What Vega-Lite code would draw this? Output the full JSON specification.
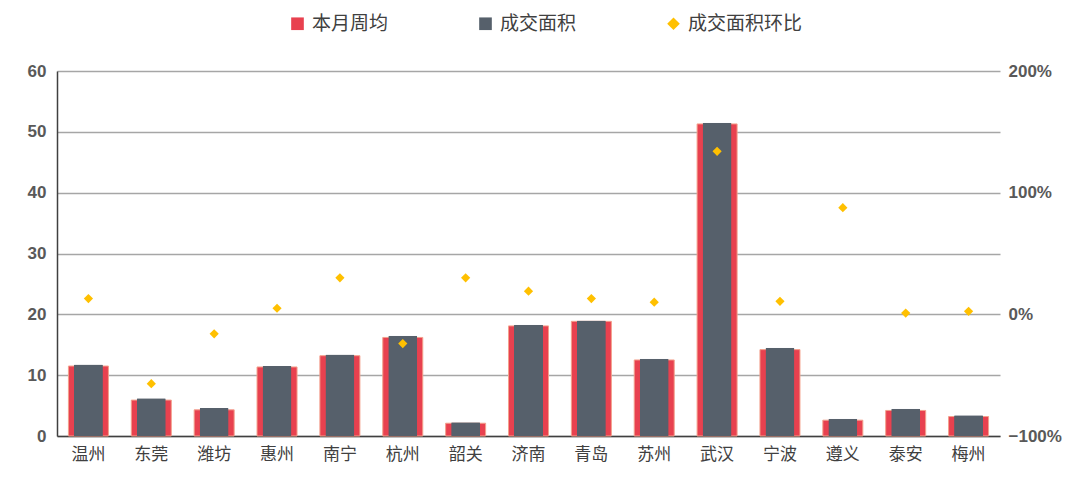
{
  "$schema": "https://vega.github.io/schema/vega-lite/v6.json",
  "width": 943,
  "height": 365,
  "autosize": "none",
  "padding": {"left": 57, "top": 71, "right": 80, "bottom": 45},
  "background": "white",
  "config": {
    "view": {"stroke": null},
    "font": "Noto Sans CJK SC"
  },
  "data": {
    "values": [
      {"city": "温州", "avg": 11.5, "area": 11.75, "ratio": 0.13, "series": "成交面积环比"},
      {"city": "东莞", "avg": 5.9, "area": 6.2, "ratio": -0.57, "series": "成交面积环比"},
      {"city": "潍坊", "avg": 4.3, "area": 4.6, "ratio": -0.16, "series": "成交面积环比"},
      {"city": "惠州", "avg": 11.35, "area": 11.5, "ratio": 0.05, "series": "成交面积环比"},
      {"city": "南宁", "avg": 13.2, "area": 13.4, "ratio": 0.30, "series": "成交面积环比"},
      {"city": "杭州", "avg": 16.2, "area": 16.5, "ratio": -0.24, "series": "成交面积环比"},
      {"city": "韶关", "avg": 2.1, "area": 2.25, "ratio": 0.30, "series": "成交面积环比"},
      {"city": "济南", "avg": 18.1, "area": 18.3, "ratio": 0.19, "series": "成交面积环比"},
      {"city": "青岛", "avg": 18.85, "area": 19.0, "ratio": 0.13, "series": "成交面积环比"},
      {"city": "苏州", "avg": 12.5, "area": 12.7, "ratio": 0.10, "series": "成交面积环比"},
      {"city": "武汉", "avg": 51.3, "area": 51.5, "ratio": 1.34, "series": "成交面积环比"},
      {"city": "宁波", "avg": 14.2, "area": 14.5, "ratio": 0.107, "series": "成交面积环比"},
      {"city": "遵义", "avg": 2.6, "area": 2.85, "ratio": 0.877, "series": "成交面积环比"},
      {"city": "泰安", "avg": 4.2, "area": 4.5, "ratio": 0.01, "series": "成交面积环比"},
      {"city": "梅州", "avg": 3.2, "area": 3.4, "ratio": 0.025, "series": "成交面积环比"}
    ]
  },
  "encoding": {
    "x": {
      "field": "city",
      "type": "nominal",
      "sort": null,
      "title": null,
      "scale": {"paddingInner": 0, "paddingOuter": 0},
      "axis": {
        "labelAngle": 0,
        "labelFont": "Noto Sans CJK SC",
        "labelFontSize": 17,
        "labelColor": "#404040",
        "labelPadding": 10,
        "ticks": false,
        "domainColor": "#404040",
        "domainWidth": 1.5
      }
    }
  },
  "layer": [
    {
      "layer": [
        {
          "mark": {"type": "bar", "size": 40, "color": "#E8414F", "stroke": "#F3A08C", "strokeWidth": 1},
          "encoding": {
            "y": {
              "field": "avg",
              "type": "quantitative",
              "title": null,
              "scale": {"domain": [0, 60]},
              "axis": {
                "values": [0, 10, 20, 30, 40, 50, 60],
                "grid": true,
                "gridColor": "#A6A6A6",
                "gridWidth": 1.5,
                "ticks": false,
                "domainColor": "#404040",
                "domainWidth": 1.5,
                "labelFont": "Liberation Sans",
                "labelFontWeight": "bold",
                "labelFontSize": 17,
                "labelColor": "#595959",
                "labelPadding": 11
              }
            }
          }
        },
        {
          "mark": {"type": "bar", "size": 29, "color": "#56606B", "cornerRadiusTopLeft": 1, "cornerRadiusTopRight": 1},
          "encoding": {
            "y": {"field": "area", "type": "quantitative", "title": null}
          }
        }
      ]
    },
    {
      "mark": {"type": "point", "filled": true, "size": 85, "opacity": 1},
      "encoding": {
        "y": {
          "field": "ratio",
          "type": "quantitative",
          "title": null,
          "scale": {"domain": [-1, 2]},
          "axis": {
            "orient": "right",
            "values": [-1, 0, 1, 2],
            "format": ".0%",
            "grid": false,
            "domain": false,
            "ticks": false,
            "labelFont": "Liberation Sans",
            "labelFontWeight": "bold",
            "labelFontSize": 17,
            "labelColor": "#595959",
            "labelPadding": 8
          }
        },
        "color": {
          "field": "series",
          "type": "nominal",
          "scale": {"domain": ["本月周均", "成交面积", "成交面积环比"], "range": ["#E8414F", "#56606B", "#FFC000"]},
          "legend": {
            "title": null,
            "orient": "none",
            "direction": "horizontal",
            "legendX": 231,
            "legendY": -57,
            "labelFont": "Noto Sans CJK SC",
            "labelFontSize": 19,
            "labelColor": "#404040",
            "symbolSize": 160,
            "symbolStrokeWidth": 0,
            "labelOffset": 5,
            "columnPadding": 87,
            "gridAlign": "each",
            "labelLimit": 300
          }
        },
        "shape": {
          "field": "series",
          "type": "nominal",
          "scale": {"domain": ["本月周均", "成交面积", "成交面积环比"], "range": ["square", "square", "diamond"]},
          "legend": null
        }
      }
    }
  ],
  "resolve": {"scale": {"y": "independent"}}
}
